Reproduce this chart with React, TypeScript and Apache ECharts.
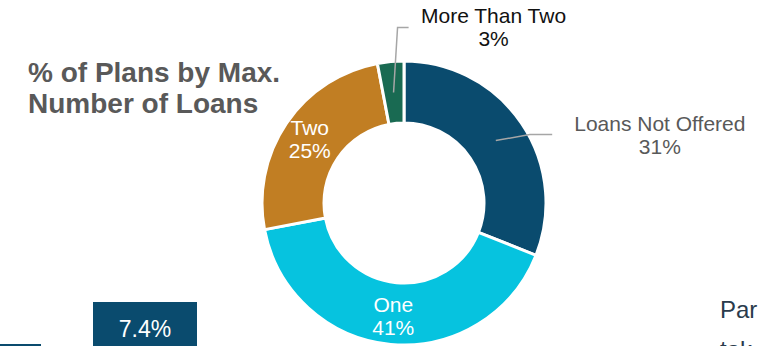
import React, { useEffect, useRef } from "react";
import * as echarts from "echarts";

const categories = ["Loans Not Offered", "One", "Two", "More Than Two"];
const values = [31, 41, 25, 3];
const sliceColors = ["#0a4b6e", "#06c3df", "#c17e23", "#196a52"];
const outsideLabel = [true, false, false, true];
const outsideLabelColors = ["#595959", "#595959", "#595959", "#111111"];
const titleLines = ["% of Plans by Max.", "Number of Loans"];
const boxValue = "7.4%";
const sideTextLines = ["Par", "tak"];

const FONT = "'Liberation Sans', Arial, Helvetica, sans-serif";

export default function App() {
  const ref = useRef<HTMLDivElement>(null);

  useEffect(() => {
    if (!ref.current) return;
    const chart = echarts.init(ref.current, undefined, { renderer: "svg" });

    const center = [404, 203];

    const ringData = categories.map((name, i) => ({
      name,
      value: values[i],
      itemStyle: { color: sliceColors[i] },
      label: { show: !outsideLabel[i] },
    }));

    const outerLabelData = categories.map((name, i) => ({
      name,
      value: values[i],
      label: { show: outsideLabel[i], color: outsideLabelColors[i] },
      labelLine: { show: outsideLabel[i] },
    }));

    const option: any = {
      animation: false,
      backgroundColor: "#ffffff",
      series: [
        {
          type: "pie",
          center,
          radius: [80, 142],
          startAngle: 90,
          clockwise: true,
          silent: true,
          avoidLabelOverlap: false,
          itemStyle: { borderColor: "#ffffff", borderWidth: 3 },
          label: {
            position: "inside",
            formatter: (p: any) => `${p.name}\n${p.value}%`,
            color: "#ffffff",
            fontSize: 21,
            lineHeight: 23,
            fontFamily: FONT,
          },
          labelLine: { show: false },
          data: ringData,
        },
        {
          type: "pie",
          center,
          radius: [0, 111],
          startAngle: 90,
          clockwise: true,
          silent: true,
          avoidLabelOverlap: false,
          z: 5,
          itemStyle: { color: "rgba(0,0,0,0)", borderWidth: 0 },
          label: {
            position: "outside",
            formatter: (p: any) => `${p.name}\n${p.value}%`,
            fontSize: 21,
            lineHeight: 23,
            fontFamily: FONT,
          },
          labelLine: {
            show: true,
            length: 10,
            length2: 40,
            lineStyle: { color: "#a6a6a6", width: 1.5 },
          },
          labelLayout: (params: any) => {
            const pts = params.labelLinePoints;
            if (!pts || !params.labelRect) return {};
            const ax = pts[0][0];
            const ay = pts[0][1];
            const w = params.labelRect.width;
            if (params.dataIndex === 0) {
              const cx = ax + 164;
              const cy = ay - 6;
              return {
                x: cx,
                y: cy,
                align: "center",
                verticalAlign: "middle",
                labelLinePoints: [
                  [ax, ay],
                  [ax + 34, cy],
                  [cx - w / 2 - 22, cy],
                ],
              };
            }
            if (params.dataIndex === 3) {
              const cx = ax + 100;
              const cy = ay - 65;
              return {
                x: cx,
                y: cy,
                align: "center",
                verticalAlign: "middle",
                labelLinePoints: [
                  [ax, ay],
                  [ax + 4, cy],
                  [cx - w / 2 - 12, cy],
                ],
              };
            }
            return {};
          },
          data: outerLabelData,
        },
      ],
      graphic: [
        {
          type: "text",
          x: 28,
          y: 57,
          style: {
            text: titleLines.join("\n"),
            fill: "#595959",
            fontSize: 28,
            fontWeight: "bold",
            fontFamily: FONT,
            lineHeight: 31,
            align: "left",
            verticalAlign: "top",
          },
        },
        {
          type: "rect",
          shape: { x: 93, y: 302, width: 104, height: 50 },
          style: { fill: "#0a4b6e" },
        },
        {
          type: "text",
          x: 145,
          y: 329,
          style: {
            text: boxValue,
            fill: "#ffffff",
            fontSize: 23,
            fontFamily: FONT,
            align: "center",
            verticalAlign: "middle",
          },
        },
        {
          type: "rect",
          shape: { x: 0, y: 344, width: 41, height: 3 },
          style: { fill: "#0a4b6e" },
        },
        {
          type: "text",
          x: 720,
          y: 289,
          style: {
            text: sideTextLines.join("\n"),
            fill: "#2a3b4c",
            fontSize: 24,
            fontFamily: FONT,
            lineHeight: 40,
            align: "left",
            verticalAlign: "top",
          },
        },
      ],
    };

    chart.setOption(option);
    return () => chart.dispose();
  }, []);

  return (
    <div
      ref={ref}
      style={{ position: "fixed", left: 0, top: 0, width: 758, height: 346 }}
    />
  );
}
